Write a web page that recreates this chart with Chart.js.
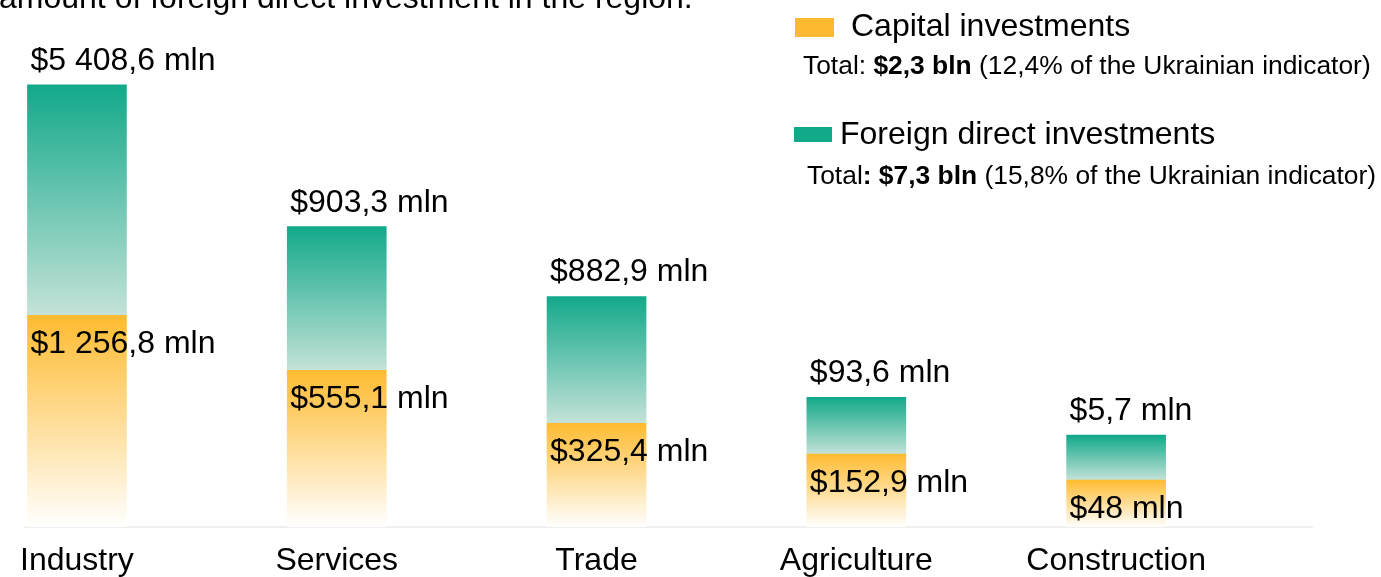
<!DOCTYPE html>
<html><head><meta charset="utf-8">
<script src="https://cdn.jsdelivr.net/npm/chart.js@4.4.0/dist/chart.umd.min.js"></script>
<style>html,body{margin:0;padding:0;background:#fff;overflow:hidden}</style>
</head><body>
<canvas id="c" width="1381" height="577"></canvas>
<script>
const categories = ['Industry', 'Services', 'Trade', 'Agriculture', 'Construction'];
const capitalValues = [1256.8, 555.1, 325.4, 152.9, 48];   // mln USD
const fdiValues = [5408.6, 903.3, 882.9, 93.6, 5.7];        // mln USD
const capitalLabels = ['$1 256,8 mln', '$555,1 mln', '$325,4 mln', '$152,9 mln', '$48 mln'];
const fdiLabels = ['$5 408,6 mln', '$903,3 mln', '$882,9 mln', '$93,6 mln', '$5,7 mln'];
// bar heights as drawn in the infographic (not proportional to the values)
const capitalBarHeight = [212, 157, 104, 73, 47];
const fdiBarHeight = [231, 144, 127, 57, 45];
const titleText = 'amount of foreign direct investment in the region.';
const legendItems = [
  { name: 'Capital investments', pre: 'Total: ', bold: '$2,3 bln', post: ' (12,4% of the Ukrainian indicator)' },
  { name: 'Foreign direct investments', pre: 'Total', bold: ': $7,3 bln', post: ' (15,8% of the Ukrainian indicator)' }
];

const FONT = '"Liberation Sans", Arial, Helvetica, sans-serif';
const ORANGE = '#FDBA30', TEAL = '#12A98A';
const gradStops = [['#FEBB30', '#FFFFFF'], ['#12A98A', '#C4E2D8']];

const gradPlugin = {
  id: 'grad',
  beforeDatasetsDraw(chart) {
    const ctx = chart.ctx;
    chart.data.datasets.forEach((ds, d) => {
      chart.getDatasetMeta(d).data.forEach((el) => {
        if (!isFinite(el.y) || !isFinite(el.base)) return;
        const g = ctx.createLinearGradient(0, el.y, 0, el.base);
        g.addColorStop(0, gradStops[d][0]);
        g.addColorStop(1, gradStops[d][1]);
        el.options.backgroundColor = g;
      });
    });
  }
};

const textPlugin = {
  id: 'txt',
  afterDraw(chart) {
    const ctx = chart.ctx;
    ctx.save();
    ctx.fillStyle = '#000';
    ctx.textAlign = 'left';
    ctx.textBaseline = 'alphabetic';
    ctx.font = '32px ' + FONT;
    ctx.fillText(titleText, -1, 8);
    const m0 = chart.getDatasetMeta(0), m1 = chart.getDatasetMeta(1);
    m0.data.forEach((b, i) => {
      ctx.fillText(capitalLabels[i], b.x - b.width / 2 + 3, b.y + 38);
    });
    m1.data.forEach((b, i) => {
      ctx.fillText(fdiLabels[i], b.x - b.width / 2 + 3, b.y - 15);
    });
    const L = [
      { sw: [795, 18, 39, 19], col: ORANGE, tx: 851, ty: 36, sx: 803, sy: 74 },
      { sw: [794, 127, 38, 15], col: TEAL, tx: 840, ty: 144, sx: 807, sy: 184 }
    ];
    legendItems.forEach((it, k) => {
      const p = L[k];
      ctx.fillStyle = p.col;
      ctx.fillRect(p.sw[0], p.sw[1], p.sw[2], p.sw[3]);
      ctx.fillStyle = '#000';
      ctx.font = '32px ' + FONT;
      ctx.fillText(it.name, p.tx, p.ty);
      let x = p.sx;
      ctx.font = '26.4px ' + FONT;
      ctx.fillText(it.pre, x, p.sy); x += ctx.measureText(it.pre).width;
      ctx.font = 'bold 26.4px ' + FONT;
      ctx.fillText(it.bold, x, p.sy); x += ctx.measureText(it.bold).width;
      ctx.font = '26.4px ' + FONT;
      ctx.fillText(it.post, x, p.sy);
    });
    ctx.restore();
  }
};

new Chart(document.getElementById('c'), {
  type: 'bar',
  data: {
    datasets: [
      {
        label: 'Capital investments',
        data: capitalBarHeight.map((v, i) => ({ x: i, y: v })),
        barThickness: 99,
        backgroundColor: (c) => ORANGE
      },
      {
        label: 'Foreign direct investments',
        data: fdiBarHeight.map((v, i) => ({ x: i, y: v })),
        barThickness: 99,
        backgroundColor: (c) => TEAL
      }
    ]
  },
  options: {
    responsive: false,
    animation: false,
    devicePixelRatio: 1,
    layout: { padding: { top: 28, left: 25, right: 69, bottom: -18 } },
    plugins: { legend: { display: false }, tooltip: { enabled: false } },
    scales: {
      x: {
        type: 'linear',
        stacked: true,
        offset: false,
        min: -0.2,
        max: 4.754,
        afterBuildTicks: (s) => { s.ticks = categories.map((c, i) => ({ value: i })); },
        grid: { display: false, drawTicks: false },
        border: { display: true, color: '#EFEFEF', width: 2 },
        ticks: {
          autoSkip: false, maxRotation: 0, padding: 18, color: '#000',
          font: { family: FONT, size: 32, lineHeight: 1 },
          callback: (v) => categories[v]
        }
      },
      y: { stacked: true, min: 0, max: 500, display: false }
    }
  },
  plugins: [gradPlugin, textPlugin]
});
</script>
</body></html>
